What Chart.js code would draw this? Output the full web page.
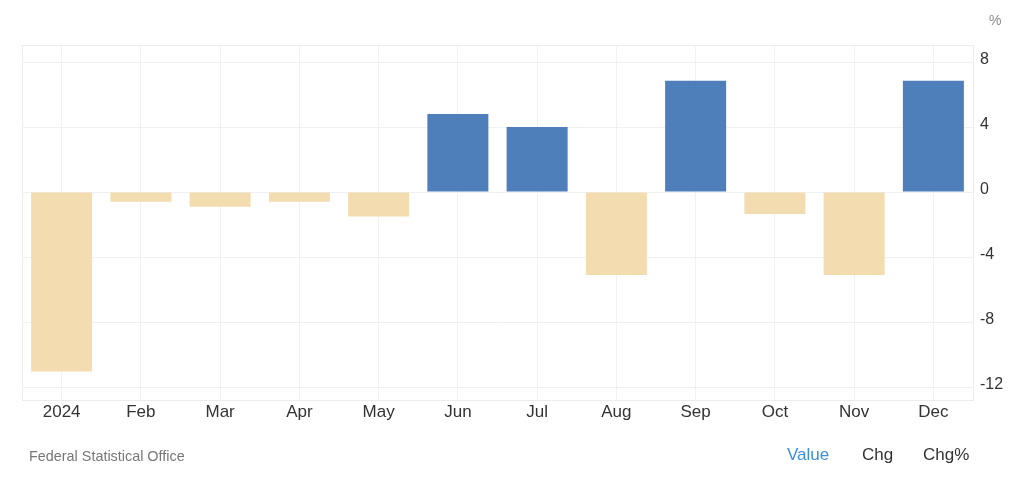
<!DOCTYPE html>
<html>
<head>
<meta charset="utf-8">
<script src="https://cdn.jsdelivr.net/npm/chart.js@4"></script>
<style>
  html, body { margin: 0; padding: 0; background: #fff; }
  body { width: 1024px; height: 482px; position: relative; overflow: hidden; font-family: "Liberation Sans", Arial, sans-serif; }
  #wrap { position: absolute; left: 0; top: 0; width: 1024px; height: 482px; }
  .unit { position: absolute; left: 989px; top: 12px; font-size: 14px; color: #8a8a8a; }
  .source { position: absolute; left: 29px; top: 448px; font-size: 14.4px; color: #777; }
  .tab { position: absolute; top: 445px; font-size: 17px; color: #333; }
</style>
</head>
<body>
<div id="wrap"><canvas id="chart" width="1024" height="482"></canvas></div>
<div class="unit">%</div>
<div class="source">Federal Statistical Office</div>
<div class="tab" style="left:787px;color:#3b8fdc">Value</div>
<div class="tab" style="left:862px">Chg</div>
<div class="tab" style="left:923px">Chg%</div>

<script>
// Monthly change, %
const months = ['2024', 'Feb', 'Mar', 'Apr', 'May', 'Jun', 'Jul', 'Aug', 'Sep', 'Oct', 'Nov', 'Dec'];
const values = [-11.05, -0.6, -0.9, -0.6, -1.5, 4.8, 4.0, -5.1, 6.85, -1.35, -5.1, 6.85];
const yTicks = [8, 4, 0, -4, -8, -12];

const upColor = '#4f7fbb';
const downColor = '#f3ddb0';

// light frame around the plot area
const frame = {
    id: 'frame',
    beforeDatasetsDraw(chart) {
        const a = chart.chartArea;
        const ctx = chart.ctx;
        ctx.save();
        ctx.strokeStyle = '#ececec';
        ctx.lineWidth = 1;
        ctx.strokeRect(Math.round(a.left) + 0.5, Math.round(a.top) + 0.5,
            Math.round(a.right - a.left), Math.round(a.bottom - a.top));
        ctx.restore();
    }
};

new Chart(document.getElementById('chart'), {
    type: 'bar',
    data: {
        labels: months,
        datasets: [{
            data: values,
            backgroundColor: values.map(v => v >= 0 ? upColor : downColor),
            borderWidth: 0,
            barPercentage: 0.77,
            categoryPercentage: 1
        }]
    },
    options: {
        responsive: false,
        animation: false,
        layout: { padding: { left: 22, top: 45, right: 0, bottom: 0 } },
        plugins: { legend: { display: false }, tooltip: { enabled: false } },
        scales: {
            x: {
                grid: { offset: false, color: '#f2f2f2', drawTicks: false },
                border: { display: true, color: '#e6e6e6' },
                ticks: { color: '#333', font: { family: 'Liberation Sans', size: 17 }, padding: 2, maxRotation: 0 },
                afterFit(scale) { scale.height = 82; }
            },
            y: {
                position: 'right',
                min: -12.8,
                max: 9.05,
                grid: { color: '#f0f0f0', drawTicks: false },
                border: { display: true, color: '#e6e6e6' },
                ticks: { color: '#333', font: { family: 'Liberation Sans', size: 16 }, padding: 7, labelOffset: -2 },
                afterBuildTicks(scale) { scale.ticks = yTicks.map(v => ({ value: v })); },
                afterFit(scale) { scale.width = 51; }
            }
        }
    },
    plugins: [frame]
});
</script>
</body>
</html>
